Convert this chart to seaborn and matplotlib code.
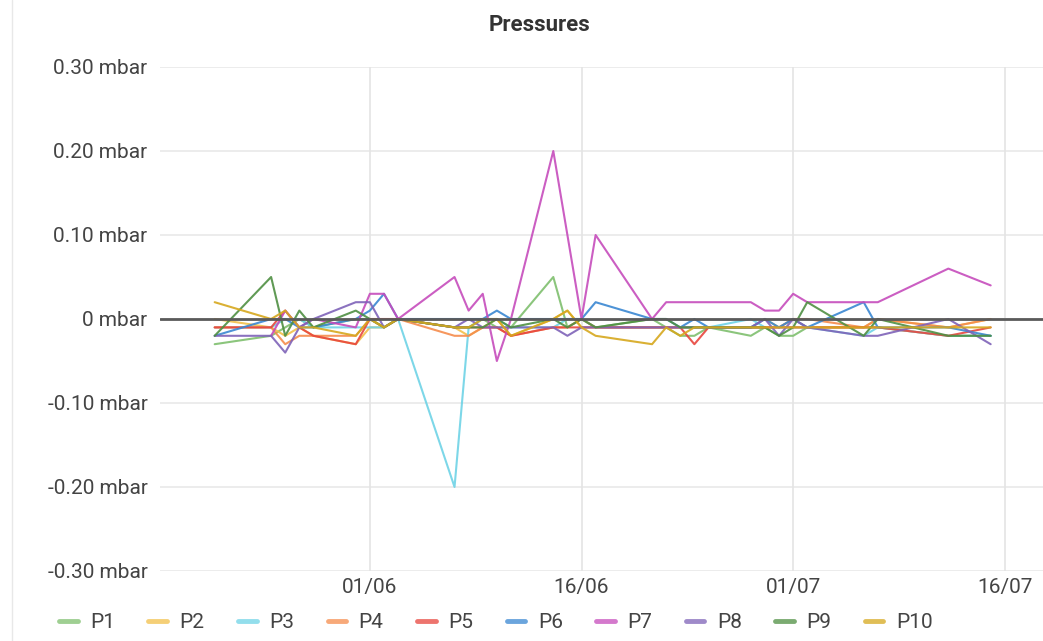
import matplotlib
matplotlib.use('Agg')
import matplotlib.pyplot as plt
import matplotlib.dates as mdates
from matplotlib.lines import Line2D
import numpy as np
import pandas as pd
import seaborn as sns

sns.set_theme(style='white')
plt.rcParams['font.family'] = ['Roboto', 'DejaVu Sans']

nan = np.nan

# sample dates (2023)
dates = ['05-21', '05-25', '05-26', '05-27', '05-28', '05-31', '06-01', '06-02',
         '06-03', '06-07', '06-08', '06-09', '06-10', '06-11', '06-14', '06-15',
         '06-16', '06-17', '06-21', '06-22', '06-23', '06-24', '06-25', '06-28',
         '06-29', '06-30', '07-01', '07-02', '07-06', '07-07', '07-12', '07-15']

# pressure readings, mbar
p1 = [-0.03, -0.02, -0.01, 0.00, -0.01, 0.00, 0.00, -0.01, 0.00, -0.01, -0.01, 0.00, -0.01, -0.01, 0.05, -0.01,
      0.00, -0.01, 0.00, -0.01, -0.02, -0.02, -0.01, -0.02, -0.01, -0.02, -0.02, -0.01, -0.01, -0.01, -0.02, -0.02]
p2 = [0.00, -0.01, -0.02, -0.01, -0.02, -0.03, -0.01, -0.01, 0.00, -0.01, -0.02, -0.01, 0.00, -0.02, 0.00, 0.01,
      -0.01, -0.01, -0.01, -0.01, -0.01, -0.01, -0.01, -0.01, 0.00, -0.01, 0.00, -0.01, -0.01, 0.00, -0.01, 0.00]
p3 = [-0.01, -0.01, 0.00, 0.00, -0.01, -0.01, -0.01, -0.01, 0.00, -0.20, -0.01, 0.00, 0.00, -0.01, -0.01, 0.00,
      0.00, -0.01, -0.01, -0.01, -0.01, -0.01, -0.01, 0.00, -0.01, -0.01, -0.01, -0.01, -0.02, -0.01, -0.02, -0.02]
p4 = [-0.01, -0.01, -0.03, -0.02, -0.02, -0.02, 0.00, -0.01, 0.00, -0.02, -0.02, -0.01, -0.01, -0.02, -0.01, -0.01,
      0.00, -0.01, -0.01, -0.01, -0.01, -0.01, -0.01, -0.01, -0.01, -0.01, 0.00, 0.00, -0.01, 0.00, -0.01, 0.00]
p5 = [-0.01, -0.01, 0.01, -0.01, -0.02, -0.03, 0.00, 0.00, 0.00, -0.01, -0.01, -0.01, -0.01, -0.02, -0.01, -0.01,
      -0.01, -0.01, -0.01, -0.01, -0.01, -0.03, -0.01, -0.01, -0.01, -0.01, -0.01, -0.01, -0.01, -0.01, -0.02, -0.01]
p6 = [-0.02, 0.00, 0.00, -0.01, -0.01, 0.00, 0.01, 0.03, 0.00, 0.00, 0.00, 0.00, 0.01, 0.00, 0.00, 0.00,
      0.00, 0.02, 0.00, 0.00, -0.01, 0.00, -0.01, -0.01, 0.00, -0.01, 0.00, -0.01, 0.02, -0.01, -0.01, -0.02]
p7 = [nan, -0.02, 0.01, -0.01, 0.00, -0.01, 0.03, 0.03, 0.00, 0.05, 0.01, 0.03, -0.05, 0.00, 0.20, nan,
      0.00, 0.10, 0.00, 0.02, 0.02, 0.02, 0.02, 0.02, 0.01, 0.01, 0.03, 0.02, 0.02, 0.02, 0.06, 0.04]
p8 = [-0.02, -0.02, -0.04, -0.01, 0.00, 0.02, 0.02, -0.01, 0.00, -0.01, 0.00, -0.01, -0.01, -0.01, -0.01, -0.02,
      -0.01, -0.01, -0.01, -0.01, -0.01, -0.01, -0.01, -0.01, 0.00, -0.02, 0.00, -0.01, -0.02, -0.02, 0.00, -0.03]
p9 = [-0.02, 0.05, -0.02, 0.01, -0.01, 0.01, 0.00, -0.01, 0.00, -0.01, -0.01, -0.01, 0.00, -0.01, 0.00, -0.01,
      0.00, -0.01, 0.00, 0.00, -0.01, -0.01, -0.01, -0.01, -0.01, -0.02, -0.01, 0.02, -0.02, 0.00, -0.02, -0.02]
p10 = [0.02, 0.00, 0.01, -0.01, -0.01, -0.02, 0.00, -0.01, 0.00, -0.01, -0.01, 0.00, 0.00, -0.02, 0.00, 0.01,
       -0.01, -0.02, -0.03, -0.01, -0.02, -0.01, -0.01, -0.01, -0.01, -0.01, -0.01, -0.01, -0.01, -0.01, -0.01, -0.01]

names = ['P1', 'P2', 'P3', 'P4', 'P5', 'P6', 'P7', 'P8', 'P9', 'P10']
series = [p1, p2, p3, p4, p5, p6, p7, p8, p9, p10]
colors = ['#7fbf6e', '#f2c04a', '#6fd3e6', '#f58c4c', '#e8463e',
          '#3a87d2', '#c64cbc', '#7f63b8', '#4f8f42', '#d6a81e']

x_ticks = ['2023-06-01', '2023-06-16', '2023-07-01', '2023-07-16']
y_ticks = [-0.3, -0.2, -0.1, 0.0, 0.1, 0.2, 0.3]

frames = []
for name, vals in zip(names, series):
    frames.append(pd.DataFrame({'date': pd.to_datetime(['2023-' + d for d in dates]),
                                'value': vals, 'sensor': name}))
df = pd.concat(frames).dropna()

fig = plt.figure(figsize=(10.43, 6.41), dpi=100)
ax = fig.add_axes([160 / 1043, 70 / 641, 883 / 1043, 504 / 641])

for t in y_ticks:
    ax.axhline(t, color='#e9e9e9', lw=1.2, zorder=0)
for t in x_ticks:
    ax.axvline(pd.Timestamp(t), color='#e4e4e4', lw=1.2, zorder=0)

sns.lineplot(data=df, x='date', y='value', hue='sensor', hue_order=names,
             palette=colors, estimator=None, linewidth=1.5, alpha=0.9,
             legend=False, ax=ax)

ax.axhline(0, color='#5a5a5a', lw=2, zorder=5)

ax.set_xlim(pd.Timestamp('2023-05-17 03:00'), pd.Timestamp('2023-07-18 17:00'))
ax.set_ylim(-0.3, 0.3)
ax.set_xticks([pd.Timestamp(t) for t in x_ticks])
ax.xaxis.set_major_formatter(mdates.DateFormatter('%d/%m'))
ax.set_yticks(y_ticks)
ax.set_yticklabels(['0 mbar' if t == 0 else f'{t:.2f} mbar' for t in y_ticks])
ax.tick_params(axis='both', length=0, labelsize=15, labelcolor='#444444')
ax.tick_params(axis='y', pad=9)
ax.tick_params(axis='x', pad=5)
ax.set_xlabel('')
ax.set_ylabel('')
for s in ax.spines.values():
    s.set_visible(False)

fig.text(540 / 1043, 1 - 25 / 641, 'Pressures', ha='center', va='center',
         fontsize=16, fontweight='bold', color='#333333')

handles = [Line2D([0], [0], color=c, lw=3.5, alpha=0.75) for c in colors]
fig.legend(handles, names, loc='center left', bbox_to_anchor=(40 / 1043, 1 - 623 / 641),
           ncol=10, frameon=False, fontsize=15, handlelength=0.9, handletextpad=0.6,
           columnspacing=1.6, labelcolor='#444444')

fig.add_artist(Line2D([12 / 1043, 12 / 1043], [0, 1], color='#e8e8e8', lw=1))

fig.savefig('out.png', dpi=100, facecolor='white')
